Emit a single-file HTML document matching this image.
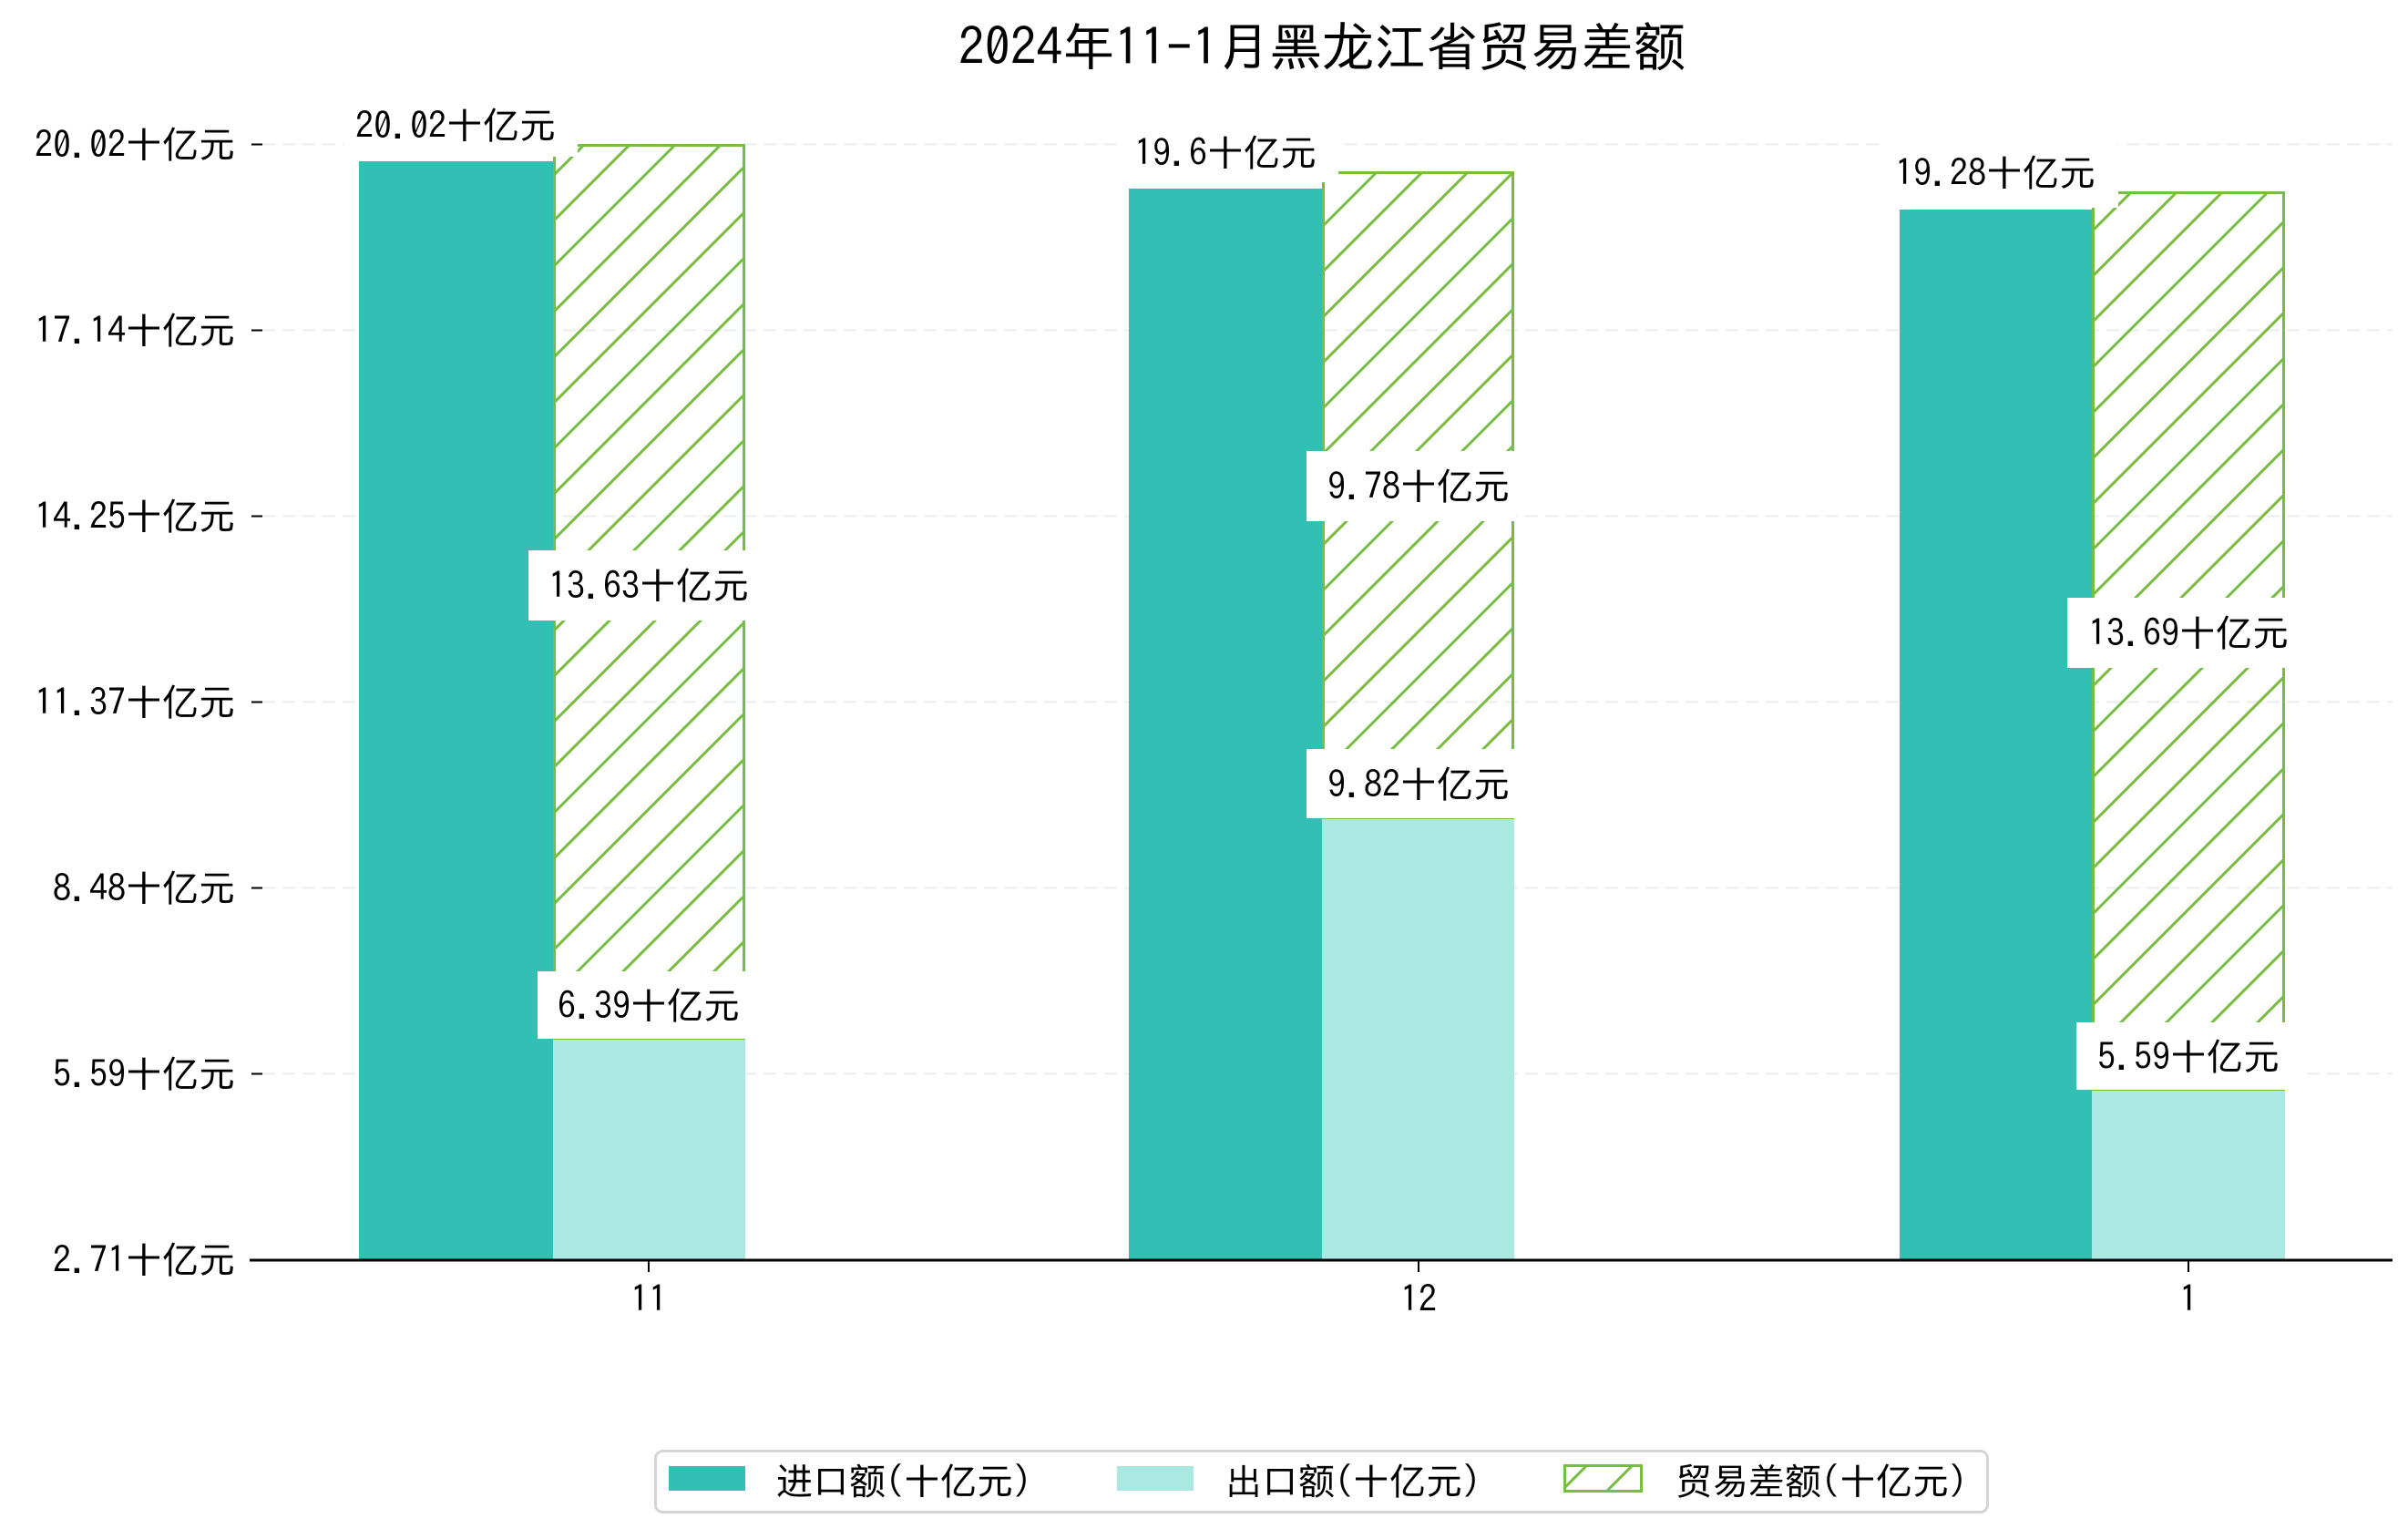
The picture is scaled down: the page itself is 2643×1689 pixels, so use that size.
<!DOCTYPE html>
<html><head><meta charset="utf-8">
<style>
html,body{margin:0;padding:0;background:#fff;}
svg{display:block;}
text{font-family:"IPAGothic","Liberation Sans","Noto Sans CJK SC",sans-serif;fill:#000;}
</style></head>
<body>
<svg width="2643" height="1689" viewBox="0 0 2643 1689" xmlns="http://www.w3.org/2000/svg">
<defs>
<pattern id="h" patternUnits="userSpaceOnUse" width="50" height="50">
<line x1="-5" y1="55" x2="55" y2="-5" stroke="#76bd43" stroke-width="3"/>
<line x1="-30" y1="30" x2="30" y2="-30" stroke="#76bd43" stroke-width="3"/>
<line x1="20" y1="80" x2="80" y2="20" stroke="#76bd43" stroke-width="3"/>
</pattern>
</defs>
<rect width="2643" height="1689" fill="#fff"/>
<text x="1451" y="72" font-size="57" text-anchor="middle">2024年11-1月黑龙江省贸易差额</text>
<!-- grid -->
<g stroke="#ececec" stroke-width="2" stroke-dasharray="14,8">
<line x1="288" y1="158.5" x2="2626" y2="158.5"/>
<line x1="288" y1="362.5" x2="2626" y2="362.5"/>
<line x1="288" y1="566.5" x2="2626" y2="566.5"/>
<line x1="288" y1="770.5" x2="2626" y2="770.5"/>
<line x1="288" y1="974.5" x2="2626" y2="974.5"/>
<line x1="288" y1="1178.5" x2="2626" y2="1178.5"/>
</g>
<!-- y ticks -->
<g stroke="#000" stroke-width="2">
<line x1="276" y1="158.5" x2="288" y2="158.5"/>
<line x1="276" y1="362.5" x2="288" y2="362.5"/>
<line x1="276" y1="566.5" x2="288" y2="566.5"/>
<line x1="276" y1="770.5" x2="288" y2="770.5"/>
<line x1="276" y1="974.5" x2="288" y2="974.5"/>
<line x1="276" y1="1178.5" x2="288" y2="1178.5"/>
<line x1="276" y1="1382.5" x2="288" y2="1382.5"/>
</g>
<g font-size="40" text-anchor="end">
<text x="258" y="173">20.02十亿元</text>
<text x="258" y="377">17.14十亿元</text>
<text x="258" y="581">14.25十亿元</text>
<text x="258" y="785">11.37十亿元</text>
<text x="258" y="989">8.48十亿元</text>
<text x="258" y="1193">5.59十亿元</text>
<text x="258" y="1397">2.71十亿元</text>
</g>
<!-- bars group 11 -->
<rect x="394" y="177" width="213" height="1206" fill="#31c0b3"/>
<rect x="607" y="1140" width="211" height="243" fill="#aae8e1"/>
<rect x="608.5" y="159.5" width="208" height="980" fill="url(#h)" stroke="#76bd43" stroke-width="3"/>
<!-- group 12 -->
<rect x="1239" y="207" width="212" height="1176" fill="#31c0b3"/>
<rect x="1451" y="898" width="211" height="485" fill="#aae8e1"/>
<rect x="1452.5" y="189.5" width="208" height="708" fill="url(#h)" stroke="#76bd43" stroke-width="3"/>
<!-- group 1 -->
<rect x="2085" y="230" width="211" height="1153" fill="#31c0b3"/>
<rect x="2296" y="1196" width="212" height="187" fill="#aae8e1"/>
<rect x="2297.5" y="211.5" width="209" height="984" fill="url(#h)" stroke="#76bd43" stroke-width="3"/>
<!-- labels -->
<g font-size="40" text-anchor="middle">
<rect x="378" y="102" width="256" height="70" fill="#fff"/>
<rect x="378" y="102" width="229" height="75" fill="#fff"/>
<text x="500" y="152">20.02十亿元</text>
<rect x="1226" y="132" width="243" height="68" fill="#fff"/>
<rect x="1226" y="132" width="225" height="75" fill="#fff"/>
<text x="1345" y="182">19.6十亿元</text>
<rect x="2068" y="154" width="257" height="74" fill="#fff"/>
<rect x="2068" y="154" width="228" height="76" fill="#fff"/>
<text x="2190" y="204">19.28十亿元</text>

<rect x="580" y="604" width="256" height="77" fill="#fff"/>
<text x="712" y="657">13.63十亿元</text>
<rect x="1434" y="495" width="230" height="77" fill="#fff"/>
<text x="1557" y="548">9.78十亿元</text>
<rect x="2269" y="656" width="256" height="77" fill="#fff"/>
<text x="2402" y="709">13.69十亿元</text>

<rect x="590" y="1066" width="232" height="74" fill="#fff"/>
<text x="712" y="1118">6.39十亿元</text>
<rect x="1434" y="822" width="230" height="76" fill="#fff"/>
<text x="1557" y="875">9.82十亿元</text>
<rect x="2279" y="1122" width="246" height="74" fill="#fff"/>
<text x="2402" y="1174">5.59十亿元</text>
</g>
<!-- x axis -->
<line x1="274" y1="1383" x2="2626" y2="1383" stroke="#000" stroke-width="3"/>
<g stroke="#000" stroke-width="2">
<line x1="712" y1="1383" x2="712" y2="1396"/>
<line x1="1557" y1="1383" x2="1557" y2="1396"/>
<line x1="2402" y1="1383" x2="2402" y2="1396"/>
</g>
<g font-size="40" text-anchor="middle">
<text x="712" y="1440">11</text>
<text x="1557" y="1440">12</text>
<text x="2402" y="1440">1</text>
</g>
<!-- legend -->
<rect x="719.5" y="1592.5" width="1462" height="67" rx="8" fill="#fff" stroke="#d4d4d4" stroke-width="3"/>
<rect x="734" y="1609" width="84" height="27" fill="#31c0b3"/>
<rect x="1226" y="1609" width="84" height="27" fill="#aae8e1"/>
<rect x="1717.5" y="1608.5" width="84" height="28" fill="url(#h)" stroke="#76bd43" stroke-width="3"/>
<g font-size="40">
<text x="852" y="1640">进口额(十亿元)</text>
<text x="1345" y="1640">出口额(十亿元)</text>
<text x="1839" y="1640">贸易差额(十亿元)</text>
</g>
</svg>
</body></html>
